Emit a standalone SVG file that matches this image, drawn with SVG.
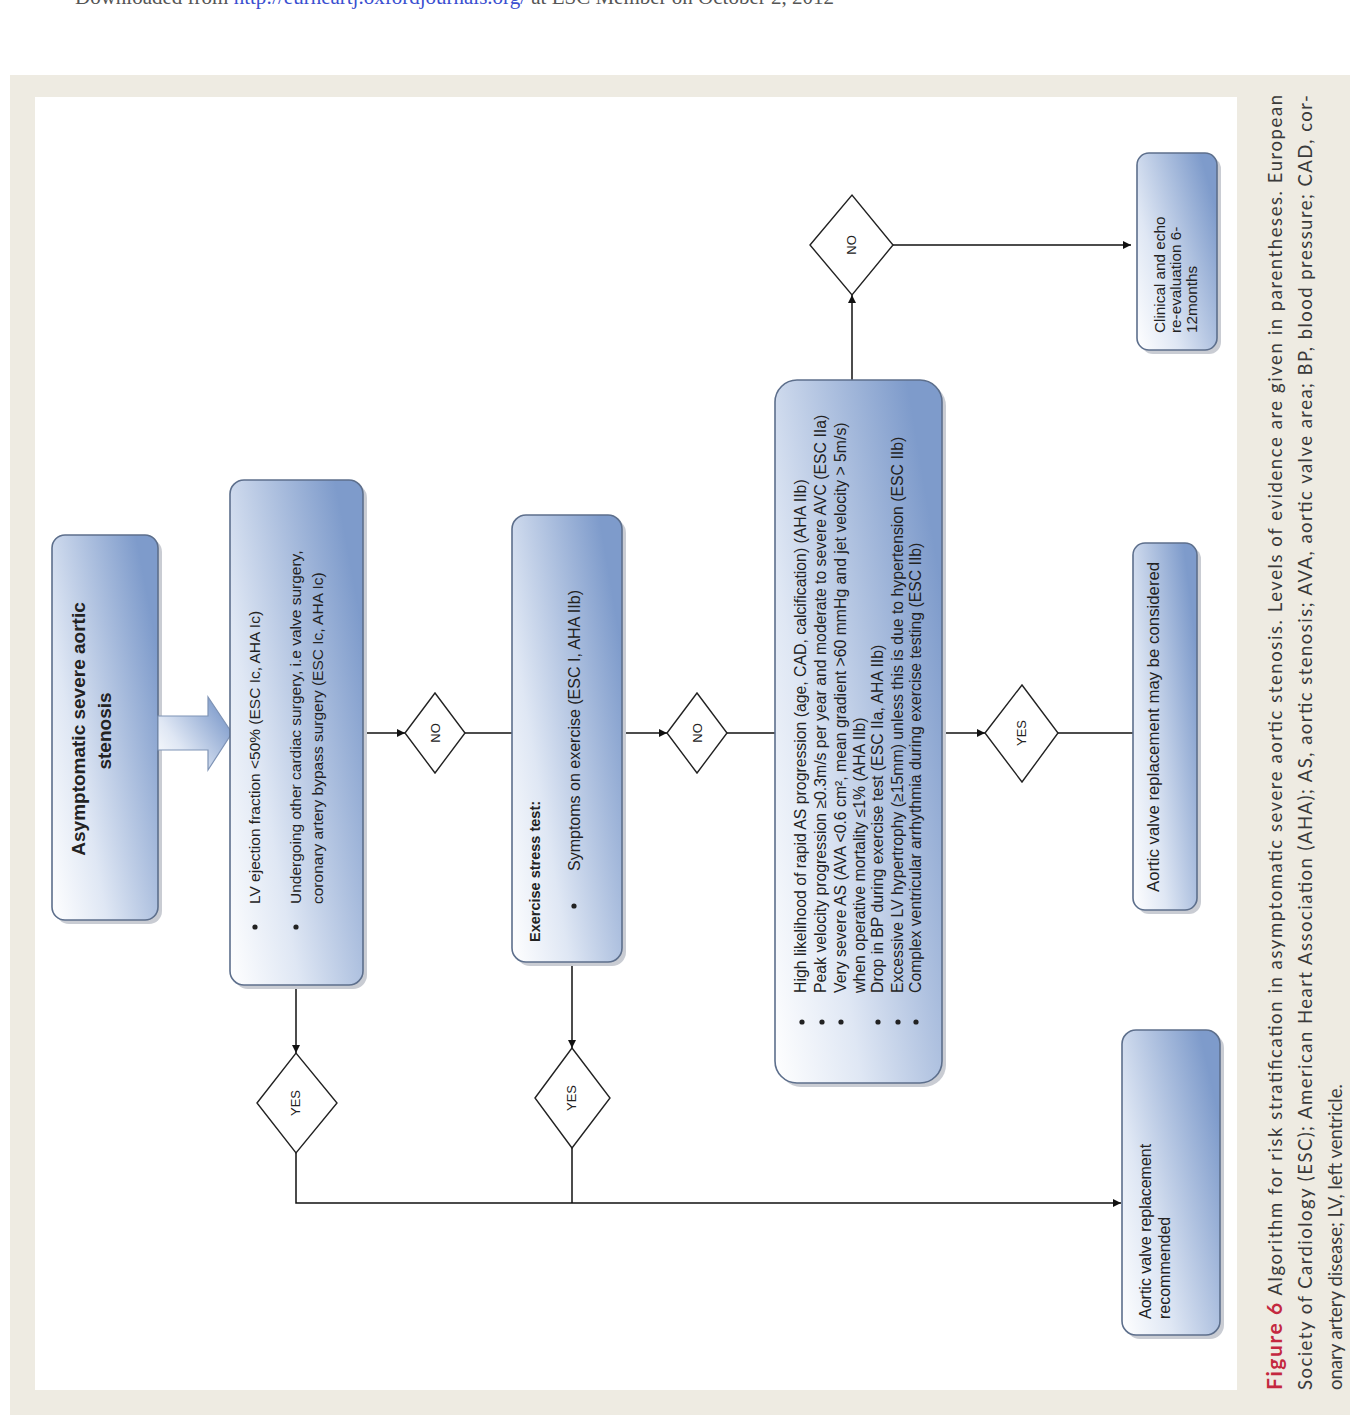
<svg xmlns="http://www.w3.org/2000/svg" width="1350" height="1415" viewBox="0 0 1350 1415">
<defs>
<linearGradient id="bg" x1="0" y1="1" x2="1" y2="0.3">
<stop offset="0" stop-color="#ffffff"/>
<stop offset="0.35" stop-color="#dfe7f4"/>
<stop offset="1" stop-color="#7e9bcb"/>
</linearGradient>
<marker id="ah" viewBox="0 0 10 10" refX="10" refY="5" markerWidth="8" markerHeight="8" markerUnits="userSpaceOnUse" orient="auto">
<path d="M0,0 L10,5 L0,10 z" fill="#111"/>
</marker>
<style>
.box{fill:url(#bg);stroke:#5d6f8c;stroke-width:1.6}
.sh{fill:#c9ccd3}
.dia{fill:#fff;stroke:#222;stroke-width:1.4}
.con{fill:none;stroke:#111;stroke-width:1.5}
.t{font-family:"Liberation Sans",Arial,sans-serif;fill:#222}
.dl{font-family:"Liberation Sans",Arial,sans-serif;font-size:13px;fill:#222;text-anchor:middle}
.cap{font-family:Lato,"Open Sans",sans-serif;font-size:18.5px;fill:#3a3a3a}
</style>
</defs>
<rect width="1350" height="1415" fill="#ffffff"/>
<text x="75" y="4" font-family="Liberation Serif,serif" font-size="21" fill="#555">Downloaded from <tspan fill="#3a4fd0">http://eurheartj.oxfordjournals.org/</tspan> at ESC Member on October 2, 2012</text>
<rect x="10" y="75" width="1340" height="1340" fill="#eeebe2"/>
<rect x="35" y="97" width="1202" height="1293" fill="#ffffff"/>

<g id="connectors">
<line class="con" x1="363" y1="733" x2="405" y2="733" marker-end="url(#ah)"/>
<line class="con" x1="465" y1="733" x2="512" y2="733"/>
<line class="con" x1="622" y1="733" x2="667" y2="733" marker-end="url(#ah)"/>
<line class="con" x1="727" y1="733" x2="775" y2="733"/>
<line class="con" x1="852" y1="380" x2="852" y2="295" marker-end="url(#ah)"/>
<line class="con" x1="893" y1="245" x2="1131" y2="245" marker-end="url(#ah)"/>
<line class="con" x1="942" y1="733" x2="985" y2="733" marker-end="url(#ah)"/>
<line class="con" x1="1058" y1="733" x2="1133" y2="733"/>
<line class="con" x1="296" y1="985" x2="296" y2="1053" marker-end="url(#ah)"/>
<line class="con" x1="572" y1="962" x2="572" y2="1048" marker-end="url(#ah)"/>
<polyline class="con" points="296,1153 296,1203 1121,1203" marker-end="url(#ah)"/>
<line class="con" x1="572" y1="1148" x2="572" y2="1203"/>
</g>

<g id="n-start">
<rect class="sh" x="56" y="539" width="106" height="385" rx="13"/>
<rect class="box" x="52" y="535" width="106" height="385" rx="13"/>
<text class="t" font-size="19" font-weight="bold" text-anchor="middle" transform="translate(85,729) rotate(-90)">Asymptomatic severe aortic</text>
<text class="t" font-size="19" font-weight="bold" text-anchor="middle" transform="translate(111,731) rotate(-90)">stenosis</text>
</g>

<g id="n-bigarrow">
<path d="M158,716 L208,716 L208,697 L232,733 L208,770 L208,750 L158,750 Z" fill="url(#bg)" stroke="#7e93b5" stroke-width="1.2"/>
</g>

<g id="n-lv">
<rect class="sh" x="234" y="484" width="133" height="505" rx="14"/>
<rect class="box" x="230" y="480" width="133" height="505" rx="14"/>
<circle cx="255" cy="927" r="2.6" fill="#222"/>
<circle cx="296" cy="927" r="2.6" fill="#222"/>
<text class="t" font-size="15.5" transform="translate(260,904) rotate(-90)">LV ejection fraction &lt;50% (ESC Ic, AHA Ic)</text>
<text class="t" font-size="15.5" transform="translate(301,904) rotate(-90)">Undergoing other cardiac surgery, i.e valve surgery,</text>
<text class="t" font-size="15.5" transform="translate(323,904) rotate(-90)">coronary artery bypass surgery (ESC Ic, AHA Ic)</text>
</g>

<g id="d-no1">
<polygon class="dia" points="405,733 435,693 465,733 435,773"/>
<text class="dl" transform="translate(440,733) rotate(-90)">NO</text>
</g>

<g id="n-exercise">
<rect class="sh" x="516" y="519" width="110" height="447" rx="14"/>
<rect class="box" x="512" y="515" width="110" height="447" rx="14"/>
<text class="t" font-size="14.5" font-weight="bold" transform="translate(540,942) rotate(-90)">Exercise stress test:</text>
<circle cx="574" cy="906" r="2.6" fill="#222"/>
<text class="t" font-size="16" transform="translate(580,871) rotate(-90)">Symptoms on exercise (ESC I, AHA IIb)</text>
</g>

<g id="d-no2">
<polygon class="dia" points="667,733 697,693 727,733 697,773"/>
<text class="dl" transform="translate(702,733) rotate(-90)">NO</text>
</g>

<g id="n-risk">
<rect class="sh" x="779" y="384" width="167" height="703" rx="22"/>
<rect class="box" x="775" y="380" width="167" height="703" rx="22"/>
<circle cx="802" cy="1022" r="2.6" fill="#222"/>
<circle cx="822" cy="1022" r="2.6" fill="#222"/>
<circle cx="841" cy="1022" r="2.6" fill="#222"/>
<circle cx="878" cy="1022" r="2.6" fill="#222"/>
<circle cx="898" cy="1022" r="2.6" fill="#222"/>
<circle cx="916" cy="1022" r="2.6" fill="#222"/>
<g class="t" font-size="15.8">
<text transform="translate(806,993) rotate(-90)">High likelihood of rapid AS progression (age, CAD, calcification) (AHA IIb)</text>
<text transform="translate(826,993) rotate(-90)">Peak velocity progression ≥0.3m/s per year and moderate to severe AVC (ESC IIa)</text>
<text transform="translate(846,993) rotate(-90)">Very severe AS (AVA &lt;0.6 cm², mean gradient &gt;60 mmHg and jet velocity &gt; 5m/s)</text>
<text transform="translate(865,993) rotate(-90)">when operative mortality ≤1% (AHA IIb)</text>
<text transform="translate(883,993) rotate(-90)">Drop in BP during exercise test (ESC IIa, AHA IIb)</text>
<text transform="translate(903,993) rotate(-90)">Excessive LV hypertrophy (≥15mm) unless this is due to hypertension (ESC IIb)</text>
<text transform="translate(921,993) rotate(-90)">Complex ventricular arrhythmia during exercise testing (ESC IIb)</text>
</g>
</g>

<g id="d-no3">
<polygon class="dia" points="810,245 852,195 893,245 852,295"/>
<text class="dl" transform="translate(856,245) rotate(-90)">NO</text>
</g>

<g id="d-yes3">
<polygon class="dia" points="985,733 1022,685 1058,733 1022,782"/>
<text class="dl" transform="translate(1026,733) rotate(-90)">YES</text>
</g>

<g id="d-yes1">
<polygon class="dia" points="257,1103 296,1053 337,1103 296,1153"/>
<text class="dl" transform="translate(300,1103) rotate(-90)">YES</text>
</g>

<g id="d-yes2">
<polygon class="dia" points="535,1098 572,1048 610,1098 572,1148"/>
<text class="dl" transform="translate(576,1098) rotate(-90)">YES</text>
</g>

<g id="n-clinical">
<rect class="sh" x="1141" y="157" width="80" height="197" rx="12"/>
<rect class="box" x="1137" y="153" width="80" height="197" rx="12"/>
<text class="t" font-size="15.3" transform="translate(1165,333) rotate(-90)">Clinical and echo</text>
<text class="t" font-size="15.3" transform="translate(1181,333) rotate(-90)">re-evaluation 6-</text>
<text class="t" font-size="15.3" transform="translate(1197,333) rotate(-90)">12months</text>
</g>

<g id="n-considered">
<rect class="sh" x="1137" y="547" width="64" height="367" rx="12"/>
<rect class="box" x="1133" y="543" width="64" height="367" rx="12"/>
<text class="t" font-size="16.8" transform="translate(1159,892) rotate(-90)">Aortic valve replacement may be considered</text>
</g>

<g id="n-recommended">
<rect class="sh" x="1126" y="1034" width="98" height="305" rx="14"/>
<rect class="box" x="1122" y="1030" width="98" height="305" rx="14"/>
<text class="t" font-size="16" transform="translate(1151,1319) rotate(-90)">Aortic valve replacement</text>
<text class="t" font-size="16" transform="translate(1170,1319) rotate(-90)">recommended</text>
</g>

<g id="caption">
<text class="cap" transform="translate(1282,1390) rotate(-90)" textLength="1295" lengthAdjust="spacing"><tspan fill="#c4283f" font-weight="bold" font-size="21">Figure 6</tspan> Algorithm for risk stratification in asymptomatic severe aortic stenosis. Levels of evidence are given in parentheses. European</text>
<text class="cap" transform="translate(1312,1390) rotate(-90)" textLength="1295" lengthAdjust="spacing">Society of Cardiology (ESC); American Heart Association (AHA); AS, aortic  stenosis; AVA, aortic valve area; BP, blood pressure; CAD, cor-</text>
<text class="cap" transform="translate(1342,1390) rotate(-90)">onary artery disease; LV, left ventricle.</text>
</g>
</svg>
